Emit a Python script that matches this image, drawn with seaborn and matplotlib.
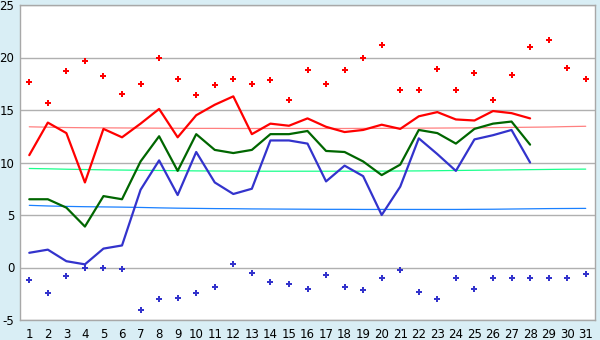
import pandas as pd
import numpy as np
import matplotlib
matplotlib.use('Agg')
import matplotlib.pyplot as plt
import seaborn as sns

# days of the month
days = list(range(1, 32))

# daily max temperatures (dots, top)
tmax = [17.7, 15.7, 18.7, 19.7, 18.2, 16.5, 17.5, 20.0, 18.0, 16.4,
        17.4, 18.0, 17.5, 17.9, 16.0, 18.8, 17.5, 18.8, 20.0, 21.2,
        16.9, 16.9, 18.9, 16.9, 18.5, 16.0, 18.3, 21.0, 21.7, 19.0, 18.0]
# daily min temperatures (dots, bottom)
tmin = [-1.2, -2.4, -0.8, 0.0, 0.0, -0.1, -4.0, -3.0, -2.9, -2.4,
        -1.9, 0.3, -0.5, -1.4, -1.6, -2.0, -0.7, -1.9, -2.1, -1.0,
        -0.2, -2.3, -3.0, -1.0, -2.0, -1.0, -1.0, -1.0, -1.0, -1.0, -0.6]

# lines for the first 28 days
line_days = list(range(1, 29))
red_line = [10.7, 13.8, 12.8, 8.1, 13.2, 12.4, 13.7, 15.1, 12.4, 14.5,
            15.5, 16.3, 12.7, 13.7, 13.5, 14.2, 13.4, 12.9, 13.1, 13.6,
            13.2, 14.4, 14.8, 14.1, 14.0, 14.9, 14.7, 14.2]
green_line = [6.5, 6.5, 5.7, 3.9, 6.8, 6.5, 10.1, 12.5, 9.2, 12.7,
              11.2, 10.9, 11.2, 12.7, 12.7, 13.0, 11.1, 11.0, 10.1, 8.8,
              9.8, 13.1, 12.8, 11.8, 13.2, 13.7, 13.9, 11.7]
blue_line = [1.4, 1.7, 0.6, 0.3, 1.8, 2.1, 7.4, 10.2, 6.9, 11.0,
             8.1, 7.0, 7.5, 12.1, 12.1, 11.8, 8.2, 9.7, 8.7, 5.0,
             7.7, 12.3, 10.8, 9.2, 12.2, 12.6, 13.1, 10.0]

# long-term normals (thin lines)
norm_high = [13.40, 13.36, 13.33, 13.31, 13.30, 13.29, 13.28, 13.27, 13.26, 13.25,
             13.25, 13.24, 13.24, 13.24, 13.24, 13.24, 13.24, 13.24, 13.25, 13.25,
             13.26, 13.27, 13.28, 13.29, 13.30, 13.32, 13.34, 13.36, 13.38, 13.42, 13.45]
norm_mean = [9.43, 9.40, 9.36, 9.33, 9.30, 9.28, 9.26, 9.24, 9.22, 9.20,
             9.19, 9.18, 9.17, 9.17, 9.17, 9.17, 9.17, 9.17, 9.17, 9.18,
             9.19, 9.20, 9.22, 9.24, 9.26, 9.28, 9.30, 9.32, 9.34, 9.36, 9.37]
norm_low = [5.92, 5.86, 5.82, 5.79, 5.77, 5.75, 5.72, 5.68, 5.65, 5.63,
            5.61, 5.60, 5.58, 5.57, 5.56, 5.55, 5.54, 5.54, 5.53, 5.53,
            5.53, 5.53, 5.53, 5.53, 5.54, 5.55, 5.57, 5.59, 5.61, 5.62, 5.63]

bg = '#d9eef5'
sns.set_style('white')
plt.rcParams['font.family'] = ['DejaVu Sans']
plt.rcParams['axes.unicode_minus'] = False

fig = plt.figure(figsize=(6, 3.4), dpi=100, facecolor=bg)
ax = fig.add_axes([20 / 600, 20 / 340, 575 / 600, 315 / 340])
ax.set_facecolor('white')

# gridlines
for v in range(-5, 26, 5):
    ax.axhline(v, color='#b0b0b0', lw=1.0, zorder=0)

df_norm = pd.DataFrame({'day': days, 'high': norm_high, 'mean': norm_mean, 'low': norm_low})
sns.lineplot(data=df_norm, x='day', y='high', color='#ff8080', lw=0.9, ax=ax)
sns.lineplot(data=df_norm, x='day', y='mean', color='#1aff8c', lw=0.9, ax=ax)
sns.lineplot(data=df_norm, x='day', y='low', color='#1a80ff', lw=0.9, ax=ax)

df_lines = pd.DataFrame({'day': line_days, 'red': red_line, 'green': green_line, 'blue': blue_line})
sns.lineplot(data=df_lines, x='day', y='red', color='#ff0000', lw=1.6, ax=ax)
sns.lineplot(data=df_lines, x='day', y='green', color='#006600', lw=1.6, ax=ax)
sns.lineplot(data=df_lines, x='day', y='blue', color='#3333cc', lw=1.6, ax=ax)

df_pts = pd.DataFrame({'day': days, 'tmax': tmax, 'tmin': tmin})
sns.scatterplot(data=df_pts, x='day', y='tmax', color='#ff0000', marker='P', s=24,
                linewidth=0, ax=ax, zorder=5)
sns.scatterplot(data=df_pts, x='day', y='tmin', color='#3333cc', marker='P', s=24,
                linewidth=0, ax=ax, zorder=5)

ax.set_xlim(0.5, 31.5)
ax.set_ylim(-5, 25)
ax.set_xticks(days)
ax.set_xticklabels([str(d) for d in days])
ax.set_yticks(range(-5, 26, 5))
ax.set_xlabel('')
ax.set_ylabel('')
ax.tick_params(axis='both', labelsize=8.5, colors='black', direction='out')
ax.tick_params(axis='x', length=4, width=1, color='#333333', pad=2)
ax.tick_params(axis='y', length=3, width=1, color='#333333', pad=1)
for s in ax.spines.values():
    s.set_color('#a8a8a8')
    s.set_linewidth(1.0)

fig.savefig('out.png', dpi=100, facecolor=bg)
